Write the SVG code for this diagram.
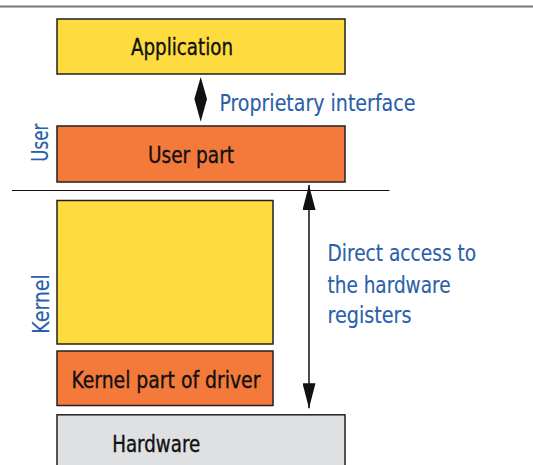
<svg xmlns="http://www.w3.org/2000/svg" width="533" height="465" viewBox="0 0 533 465">
<defs>
<style>
.box{stroke:#231f20;stroke-width:1.5}
.yel{fill:#fedb3e}
.org{fill:#f47a3c}
.gry{fill:#dfe0e2}
.t{font-family:"DejaVu Sans Condensed","DejaVu Sans",sans-serif;font-size:23px;fill:#111;stroke:#111;stroke-width:0.35}
.b{font-family:"DejaVu Sans Condensed","DejaVu Sans",sans-serif;font-size:23px;fill:#2a5fab;stroke:#2a5fab;stroke-width:0.15}
.ln{stroke:#111;stroke-width:1.5;fill:none}
</style>
<marker id="ah" markerUnits="userSpaceOnUse" markerWidth="25" markerHeight="13" refX="25" refY="6.5" orient="auto-start-reverse" viewBox="0 0 25 13">
<path d="M0,0 L25,6.5 L0,13 z" fill="#111"/>
</marker>
</defs>
<rect width="533" height="465" fill="#fff"/>
<line x1="0" y1="6.5" x2="533" y2="6.5" stroke="#777" stroke-width="2"/>
<line x1="12" y1="190.5" x2="389.5" y2="190.5" stroke="#111" stroke-width="1.2"/>
<g id="application">
<rect class="box yel" x="57" y="19" width="288" height="55"/>
<text class="t" x="131" y="55" textLength="102" lengthAdjust="spacingAndGlyphs">Application</text>
</g>
<g id="user-part">
<rect class="box org" x="57" y="126" width="288" height="56"/>
<text class="t" x="148" y="162.7" textLength="86" lengthAdjust="spacingAndGlyphs">User part</text>
</g>
<g id="kernel-block">
<rect class="box yel" x="57" y="200.5" width="216" height="143.5"/>
</g>
<g id="kernel-driver">
<rect class="box org" x="57" y="351" width="216" height="54.5"/>
<text class="t" x="71.4" y="387.6" textLength="189" lengthAdjust="spacingAndGlyphs">Kernel part of driver</text>
</g>
<g id="hardware">
<rect class="box gry" x="57" y="414.8" width="288" height="60"/>
<text class="t" x="112.2" y="451.6" textLength="88" lengthAdjust="spacingAndGlyphs">Hardware</text>
</g>
<g id="labels">
<text class="b" transform="translate(47.6,161.7) rotate(-90)" textLength="38" lengthAdjust="spacingAndGlyphs">User</text>
<text class="b" transform="translate(49.3,333.7) rotate(-90)" textLength="59.5" lengthAdjust="spacingAndGlyphs">Kernel</text>
<text class="b" x="219.4" y="111" textLength="196" lengthAdjust="spacingAndGlyphs">Proprietary interface</text>
<text class="b" x="327.5" y="261.3" textLength="148.6" lengthAdjust="spacingAndGlyphs">Direct access to</text>
<text class="b" x="327.5" y="292.9" textLength="123" lengthAdjust="spacingAndGlyphs">the hardware</text>
<text class="b" x="327.5" y="322.5" textLength="84" lengthAdjust="spacingAndGlyphs">registers</text>
</g>
<g id="connectors">
<polygon points="200.7,77 207,99 194.4,99" fill="#111"/>
<polygon points="194.4,99 207,99 200.7,121.7" fill="#111"/>
<line class="ln" x1="309" y1="185" x2="309" y2="408.3" marker-start="url(#ah)" marker-end="url(#ah)"/>
</g>
</svg>
